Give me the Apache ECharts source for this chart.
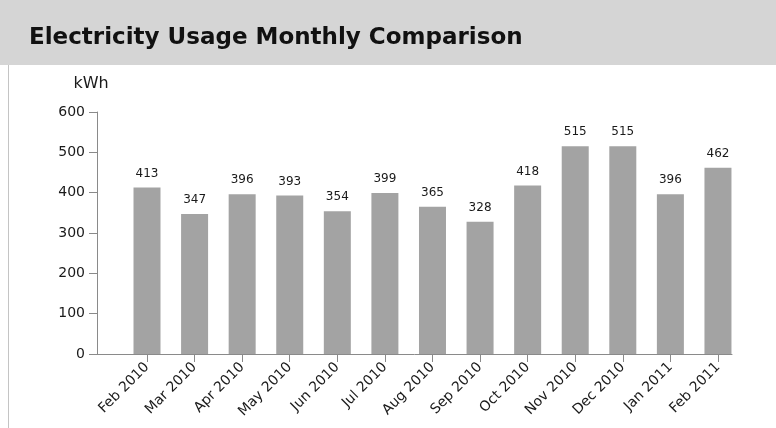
<!DOCTYPE html>
<html>
<head>
<meta charset="utf-8">
<script src="https://cdn.jsdelivr.net/npm/echarts@6/dist/echarts.min.js"></script>
<style>
  html, body { margin: 0; padding: 0; background: #fff; }
  #chart { width: 776px; height: 428px; }
</style>
</head>
<body>
<div id="chart"></div>
<script>
// Monthly electricity usage, kWh
const months = ['Feb 2010', 'Mar 2010', 'Apr 2010', 'May 2010', 'Jun 2010', 'Jul 2010',
  'Aug 2010', 'Sep 2010', 'Oct 2010', 'Nov 2010', 'Dec 2010', 'Jan 2011', 'Feb 2011'];
const usage = [413, 347, 396, 393, 354, 399, 365, 328, 418, 515, 515, 396, 462];
const yTicks = [0, 100, 200, 300, 400, 500, 600];

const monthIdx = months.map((m, i) => i);
const barData = usage.map((v, i) => [i, v]);

const chart = echarts.init(document.getElementById('chart'), null, { renderer: 'canvas' });

const textColor = '#1a1a1a';
const axisColor = '#8a8a8a';
const font = '"DejaVu Sans", Verdana, sans-serif';

chart.setOption({
  backgroundColor: '#ffffff',
  animation: false,
  graphic: [
    { type: 'rect', left: 0, top: 0, shape: { width: 776, height: 65 }, style: { fill: '#d5d5d5' }, z: -10 },
    { type: 'line', shape: { x1: 8.5, y1: 65, x2: 8.5, y2: 428 }, style: { stroke: '#c4c4c4', lineWidth: 1 }, z: -10 }
  ],
  title: {
    text: 'Electricity Usage Monthly Comparison',
    left: 24,
    top: 22,
    textStyle: { fontFamily: font, fontSize: 23, fontWeight: 'bold', color: '#111' }
  },
  grid: { left: 97, right: 44, top: 112, bottom: 74, containLabel: false },
  xAxis: {
    type: 'value',
    min: -1.051,
    max: 12.295,
    splitLine: { show: false },
    axisLine: { show: true, onZero: false, lineStyle: { color: axisColor, width: 1 } },
    axisTick: { show: true, length: 8, customValues: monthIdx, lineStyle: { color: axisColor } },
    axisLabel: {
      customValues: monthIdx,
      formatter: v => months[Math.round(v)],
      rotate: 45,
      margin: 11,
      fontFamily: font,
      fontSize: 14,
      color: textColor
    }
  },
  yAxis: {
    type: 'value',
    min: 0,
    max: 600,
    interval: 100,
    name: 'kWh',
    nameLocation: 'end',
    nameGap: 20,
    nameTextStyle: { fontFamily: font, fontSize: 16, color: textColor, align: 'center', padding: [0, 12, 0, 0] },
    splitLine: { show: false },
    axisLine: { show: true, onZero: false, lineStyle: { color: axisColor, width: 1 } },
    axisTick: { show: true, length: 8, lineStyle: { color: axisColor } },
    axisLabel: {
      margin: 12,
      fontFamily: font,
      fontSize: 14,
      color: textColor,
      formatter: v => (yTicks.indexOf(v) >= 0 ? String(v) : '')
    }
  },
  series: [{
    type: 'bar',
    data: barData,
    barWidth: 27,
    itemStyle: { color: '#a3a3a3' },
    label: {
      show: true,
      position: 'top',
      distance: 8,
      fontFamily: font,
      fontSize: 12,
      color: textColor,
      formatter: p => String(p.value[1])
    }
  }]
});
</script>
</body>
</html>
